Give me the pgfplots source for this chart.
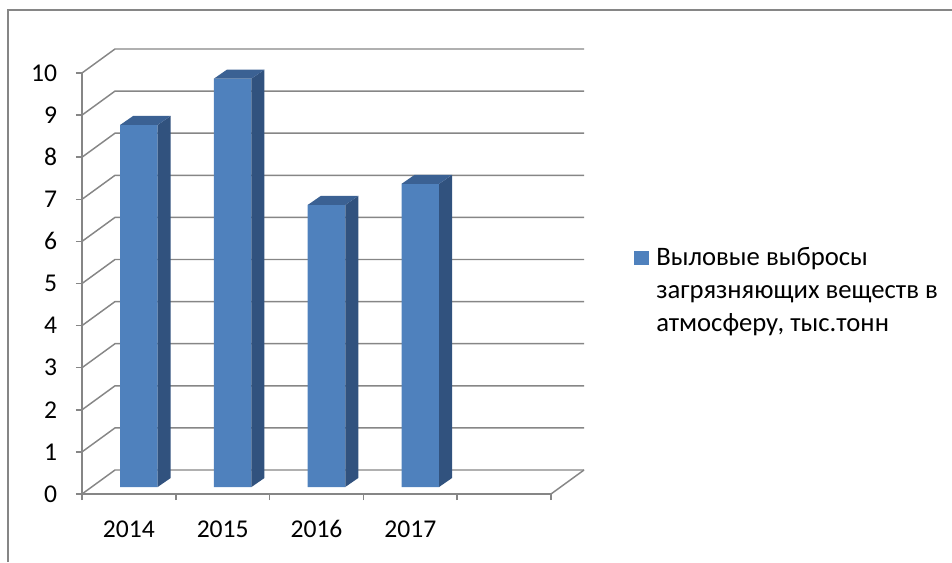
\documentclass[border=0pt]{standalone}
\usepackage{fontspec}
\setmainfont{Carlito}
\usepackage{pgfplots}
\pgfplotsset{compat=1.18}
\usepackage{pgfplotstable}

\definecolor{barblue}{HTML}{4F81BD}
\definecolor{sideblue}{HTML}{31527E}
\definecolor{topblue}{HTML}{3B6193}
\definecolor{gridgray}{HTML}{868686}

% values
\pgfplotstableread{
x v
0 8.6
1 9.7
2 6.7
3 7.2
}\datatable

% side face of a bar (relative to top-centre of front face); \val = bar value
\pgfdeclareplotmark{barside}{%
  \pgfpathmoveto{\pgfqpoint{14.07pt}{0pt}}%
  \pgfpathlineto{\pgfqpoint{23.82pt}{6.75pt}}%
  \pgfpathlineto{\pgfpoint{23.82pt}{6.75pt-\val*31.575pt}}%
  \pgfpathlineto{\pgfpoint{14.07pt}{0pt-\val*31.575pt}}%
  \pgfpathclose
  \pgfusepathqfill
}
% top face of a bar
\pgfdeclareplotmark{bartop}{%
  \pgfpathmoveto{\pgfqpoint{-14.07pt}{0pt}}%
  \pgfpathlineto{\pgfqpoint{14.07pt}{0pt}}%
  \pgfpathlineto{\pgfqpoint{23.82pt}{6.75pt}}%
  \pgfpathlineto{\pgfqpoint{-4.32pt}{6.75pt}}%
  \pgfpathclose
  \pgfusepathqfill
}

\newcommand{\lblfont}{\fontsize{19.2}{23}\selectfont}
\newcommand{\legfont}{\fontsize{20}{24}\selectfont}

\begin{document}
\begin{tikzpicture}
\begin{axis}[
  x=70.35pt, y=31.575pt,
  xmin=-0.5, xmax=4.5, ymin=0, ymax=10,
  clip=false,
  axis x line*=bottom, axis y line*=left,
  axis line style={-, draw=gridgray, line width=1.1pt},
  xtick={0,1,2,3}, xticklabels={2014,2015,2016,2017},
  minor xtick={-0.5,0.5,...,4.5},
  ytick={0,1,...,10},
  tick align=outside,
  major tick length=4.5pt,
  minor tick length=4.5pt,
  major x tick style={draw=none},
  minor x tick style={draw=gridgray, line width=1.1pt},
  ytick style={draw=gridgray, line width=1.1pt},
  /pgf/number format/assume math mode=true,
  ticklabel style={font=\lblfont, inner sep=0pt},
  yticklabel style={anchor=east, xshift=-14pt},
  xticklabel style={anchor=base, yshift=-27.75pt},
]
\coordinate (O) at (axis cs:-0.5,0);
\pgfplotsinvokeforeach{0,...,10}{
  \draw[gridgray, line width=1.1pt] (axis cs:-0.5,#1) -- ++(24.75pt,18pt) -- ++(351.75pt,0pt);
}
\draw[gridgray, line width=1.1pt] (axis cs:4.5,0) -- ++(24.75pt,18pt);

\addplot[ybar, bar width=0.4, bar shift=0pt, fill=barblue, draw=none,
  xshift=7.5pt, yshift=5.25pt] table[x=x, y=v] {\datatable};
\addplot[only marks, mark=barside, mark options={fill=sideblue, draw=none},
  visualization depends on={rawy \as \val},
  xshift=7.5pt, yshift=5.25pt] table[x=x, y=v] {\datatable};
\addplot[only marks, mark=bartop, mark options={fill=topblue, draw=none},
  xshift=7.5pt, yshift=5.25pt] table[x=x, y=v] {\datatable};
\end{axis}

\begin{scope}[shift={(O)}, x=0.75pt, y=-0.75pt]
  \draw[gridgray, line width=0.9pt] (-74,68) -- (-74,-484) -- (870,-484);
  \fill[barblue] (552,-243) rectangle (566.5,-229.5);
  \begin{scope}[every node/.style={anchor=base west, inner sep=0pt, font=\legfont}]
    \node at (574,-229) {Выловые выбросы};
    \node at (574,-196) {загрязняющих веществ в};
    \node at (574,-163) {атмосферу, тыс.тонн};
  \end{scope}
  \pgfresetboundingbox
  \path[use as bounding box] (-82,-494) rectangle (870,68);
\end{scope}
\end{tikzpicture}
\end{document}
